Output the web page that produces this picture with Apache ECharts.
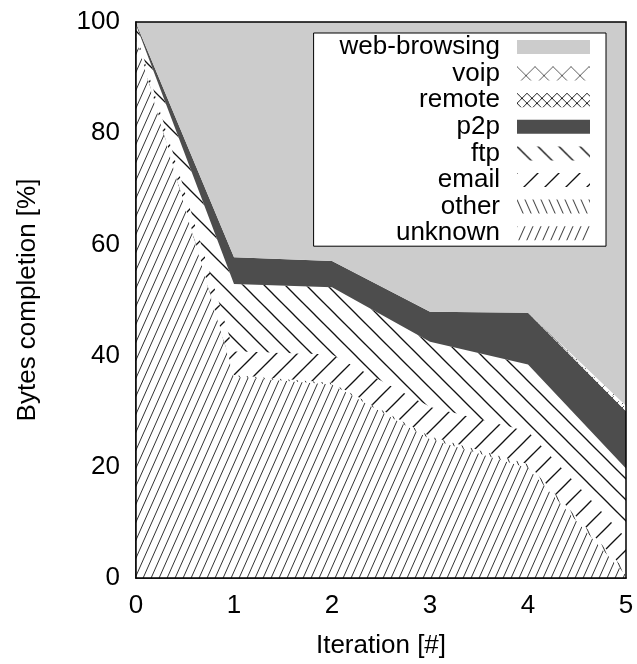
<!DOCTYPE html>
<html>
<head>
<meta charset="utf-8">
<script src="https://cdn.jsdelivr.net/npm/echarts@6/dist/echarts.min.js"></script>
<style>
html,body{margin:0;padding:0;background:#fff;}
#chart{width:637px;height:664px;}
</style>
</head>
<body>
<div id="chart"></div>
<script>
// ---- data ----
const iterations = ['0', '1', '2', '3', '4', '5'];
const seriesNames = ['unknown', 'other', 'email', 'ftp', 'p2p', 'remote', 'voip', 'web-browsing'];
const legendOrder = ['web-browsing', 'voip', 'remote', 'p2p', 'ftp', 'email', 'other', 'unknown'];
const unknown      = [97.0, 36.2, 34.8, 25.0, 19.8, 0.5];
const other        = [0.3, 0.3, 0.3, 0.5, 0.7, 0.8];
const email        = [0.7, 4.3, 5.1, 5.3, 5.9, 5.9];
const ftp          = [1.5, 12.1, 12.1, 11.7, 12.0, 12.5];
const p2p          = [0.3, 4.8, 4.7, 5.4, 9.3, 10.3];
const remote       = [0.0, 0.0, 0.0, 0.0, 0.0, 0.5];
const voip         = [0.0, 0.0, 0.0, 0.0, 0.0, 0.5];
const webBrowsing  = [0.2, 42.3, 43.0, 52.1, 52.3, 69.0];
const yTicks = [0, 20, 40, 60, 80, 100];

// ---- fill patterns ----
function hatch(w, h, dirs, color, lw) {
  const c = document.createElement('canvas');
  c.width = w; c.height = h;
  const g = c.getContext('2d');
  g.fillStyle = '#ffffff';
  g.fillRect(0, 0, w, h);
  g.strokeStyle = color;
  g.lineWidth = lw;
  dirs.forEach(function (d) {
    [-w, 0, w].forEach(function (off) {
      g.beginPath();
      if (d === '/') { g.moveTo(off - 1, h + h / w); g.lineTo(off + w + 1, -h / w); }
      else { g.moveTo(off - 1, -h / w); g.lineTo(off + w + 1, h + h / w); }
      g.stroke();
    });
  });
  return { image: c, repeat: 'repeat' };
}
const fills = {
  'unknown': hatch(8, 18, ['/'], '#333', 1),
  'other': hatch(8, 18, ['\\'], '#333', 1),
  'email': hatch(21, 21, ['/'], '#111', 1.3),
  'ftp': hatch(21, 21, ['\\'], '#111', 1.3),
  'p2p': '#4d4d4d',
  'remote': hatch(10, 10, ['/', '\\'], '#222', 1),
  'voip': hatch(18, 18, ['/', '\\'], '#333', 0.8),
  'web-browsing': '#cccccc'
};
const values = {
  'unknown': unknown, 'other': other, 'email': email, 'ftp': ftp,
  'p2p': p2p, 'remote': remote, 'voip': voip, 'web-browsing': webBrowsing
};

const FONT = 'Liberation Sans, Arial, Helvetica, sans-serif';
const FS = 26;
const chart = echarts.init(document.getElementById('chart'), null, { renderer: 'canvas' });

const series = seriesNames.map(function (name) {
  return {
    name: name,
    type: 'line',
    stack: 'total',
    showSymbol: false,
    symbol: 'none',
    smooth: false,
    lineStyle: { width: 0, opacity: 0 },
    itemStyle: { color: fills[name] },
    areaStyle: { color: fills[name], opacity: 1 },
    emphasis: { disabled: true },
    data: values[name]
  };
});

chart.setOption({
  animation: false,
  backgroundColor: '#ffffff',
  grid: { left: 136, right: 11, top: 22, bottom: 84, show: true, borderColor: '#000', borderWidth: 1.5, backgroundColor: 'transparent', z: 10 },
  xAxis: {
    type: 'category', data: iterations, boundaryGap: false,
    name: 'Iteration [#]', nameLocation: 'middle', nameGap: 55,
    nameTextStyle: { fontFamily: FONT, fontSize: FS, color: '#000' },
    axisLine: { show: true, lineStyle: { color: '#000', width: 1.5 } },
    axisTick: { show: false },
    splitLine: { show: false },
    axisLabel: { fontFamily: FONT, fontSize: FS, color: '#000', margin: 15 }
  },
  yAxis: {
    type: 'value', min: yTicks[0], max: yTicks[yTicks.length - 1], interval: 20,
    name: 'Bytes completion [%]', nameLocation: 'middle', nameGap: 95,
    nameTextStyle: { fontFamily: FONT, fontSize: FS, color: '#000' },
    axisLine: { show: true, lineStyle: { color: '#000', width: 1.5 } },
    axisTick: { show: false },
    splitLine: { show: false },
    axisLabel: { fontFamily: FONT, fontSize: FS, color: '#000', margin: 16 }
  },
  legend: {
    orient: 'vertical',
    align: 'right',
    right: 31,
    top: 33,
    itemWidth: 73,
    itemHeight: 14,
    itemGap: 0.6,
    padding: [1, 16, 0, 26],
    backgroundColor: '#ffffff',
    borderColor: '#000',
    borderWidth: 1,
    icon: 'rect',
    selectedMode: false,
    textStyle: { fontFamily: FONT, fontSize: FS, color: '#000', padding: [0, 12, 0, 0] },
    data: legendOrder.map(function (n) {
      return { name: n, icon: 'rect', itemStyle: { color: fills[n], borderWidth: 0 } };
    })
  },
  series: series
});
</script>
</body>
</html>
